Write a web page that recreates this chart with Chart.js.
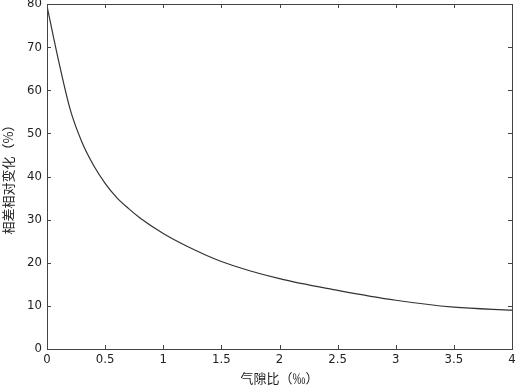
<!DOCTYPE html>
<html>
<head>
<meta charset="utf-8">
<script src="https://cdn.jsdelivr.net/npm/chart.js@4/dist/chart.umd.min.js"></script>
<style>
  html, body { margin: 0; padding: 0; background: #fff; }
  #wrap { width: 519px; height: 386px; }
</style>
</head>
<body>
<div id="wrap"><canvas id="c" width="519" height="386"></canvas></div>
<script>
// 数据
const gapRatio = [0, 0.1, 0.2, 0.3, 0.4, 0.5, 0.6, 0.7, 0.8, 1.0, 1.2, 1.5, 2.0, 2.5, 3.0, 3.5, 4.0];
const relChange = [79.5, 66.8, 55.5, 48.0, 42.6, 38.4, 35.1, 32.6, 30.4, 26.8, 23.9, 20.3, 16.3, 13.6, 11.3, 9.7, 9.0];
const xTicks = [0, 0.5, 1, 1.5, 2, 2.5, 3, 3.5, 4];
const yTicks = [0, 10, 20, 30, 40, 50, 60, 70, 80];

const axisColor = '#444';
const tickFont = { family: "'Liberation Sans Narrow', 'DejaVu Sans Condensed', sans-serif", size: 13 };
const titleFont = { family: "'Noto Sans CJK SC', sans-serif", size: 13 };

// 边框和向内刻度
const frameTicks = {
    id: 'frameTicks',
    afterDatasetsDraw(chart) {
        const { ctx, chartArea: a, scales } = chart;
        ctx.save();
        ctx.strokeStyle = axisColor;
        ctx.lineWidth = 1;
        ctx.strokeRect(Math.round(a.left) + 0.5, Math.round(a.top) + 0.5,
            Math.round(a.right - a.left), Math.round(a.bottom - a.top));
        const len = 4;
        ctx.beginPath();
        xTicks.forEach(v => {
            const px = Math.round(scales.x.getPixelForValue(v)) + 0.5;
            ctx.moveTo(px, a.bottom); ctx.lineTo(px, a.bottom - len);
            ctx.moveTo(px, a.top); ctx.lineTo(px, a.top + len);
        });
        yTicks.forEach(v => {
            const py = Math.round(scales.y.getPixelForValue(v)) + 0.5;
            ctx.moveTo(a.left, py); ctx.lineTo(a.left + len, py);
            ctx.moveTo(a.right, py); ctx.lineTo(a.right - len, py);
        });
        ctx.stroke();
        ctx.restore();
    }
};

new Chart(document.getElementById('c'), {
    type: 'scatter',
    data: {
        datasets: [{
            data: gapRatio.map((x, i) => ({ x: x, y: relChange[i] })),
            showLine: true,
            borderColor: '#333',
            borderWidth: 1.2,
            pointRadius: 0,
            cubicInterpolationMode: 'monotone',
            fill: false
        }]
    },
    options: {
        responsive: false,
        animation: false,
        layout: { padding: { top: 4, right: 7, left: 0, bottom: 0 } },
        plugins: {
            legend: { display: false },
            tooltip: { enabled: false }
        },
        scales: {
            x: {
                type: 'linear',
                min: 0,
                max: 4,
                afterBuildTicks: s => { s.ticks = xTicks.map(v => ({ value: v })); },
                afterFit: s => { s.height = 37; s.paddingLeft = 0; s.paddingRight = 0; },
                grid: { display: false, drawTicks: false },
                border: { display: false },
                ticks: {
                    padding: 3,
                    color: '#222',
                    font: tickFont,
                    maxRotation: 0,
                    callback: v => String(v)
                },
                title: {
                    display: true,
                    text: '气隙比（‰）',
                    color: '#222',
                    font: titleFont,
                    padding: { top: 0, bottom: 0 }
                }
            },
            y: {
                min: 0,
                max: 80,
                afterBuildTicks: s => { s.ticks = yTicks.map(v => ({ value: v })); },
                afterFit: s => { s.width = 47; s.paddingTop = 0; s.paddingBottom = 0; },
                grid: { display: false, drawTicks: false },
                border: { display: false },
                ticks: {
                    padding: 5,
                    color: '#222',
                    font: tickFont
                },
                title: {
                    display: true,
                    text: '相差相对变化（%）',
                    color: '#222',
                    font: titleFont,
                    padding: { top: 0, bottom: 0 }
                }
            }
        }
    },
    plugins: [frameTicks]
});
</script>
</body>
</html>
